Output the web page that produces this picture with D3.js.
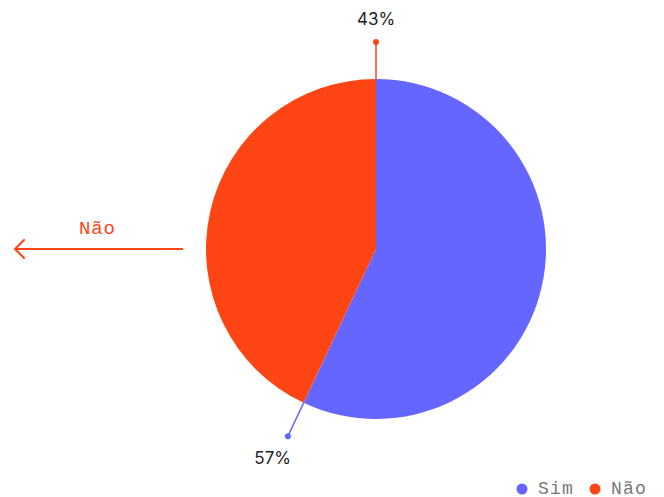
<!DOCTYPE html>
<html><head><meta charset="utf-8">
<script src="https://cdn.jsdelivr.net/npm/d3@7"></script>
<style>body{margin:0;background:#fff}svg{display:block}</style>
</head><body><svg id="c" width="664" height="497"></svg>
<script>
const categories = ["Sim", "Não"];
const values = [57, 43];
const labels = ["57%", "43%"];
const colors = ["#6466FF", "#FF4514"];

const svg = d3.select("#c");
const cx = 376, cy = 249, r = 170;
const g = svg.append("g").attr("transform", `translate(${cx},${cy})`);
const pie = d3.pie().sort(null).value(d => d)(values);
const arc = d3.arc().innerRadius(0).outerRadius(r);
g.selectAll("path.s").data(pie).join("path").attr("class","s")
  .attr("d", arc).attr("fill", (d,i) => colors[i]);

const pt = (a, rad) => [Math.sin(a)*rad, -Math.cos(a)*rad];
pie.forEach((d,i) => {
  const a = d.endAngle;
  const p1 = pt(a, r), p2 = pt(a, 207), p3 = pt(a, 231);
  g.append("line").attr("x1",p1[0]).attr("y1",p1[1]).attr("x2",p2[0]).attr("y2",p2[1])
    .attr("stroke", colors[i]).attr("stroke-width", 1.5);
  g.append("circle").attr("cx",p2[0]).attr("cy",p2[1]).attr("r",3).attr("fill",colors[i]);
  g.append("text").attr("x",p3[0] + (Math.sin(a) < -0.1 ? -5 : 0)).attr("y",p3[1] + (Math.cos(a) > 0.9 ? 1 : 0)).attr("dy","0.35em")
    .attr("text-anchor","middle").attr("font-family","Inter, 'Noto Sans', sans-serif")
    .attr("font-size",17).attr("fill","#222").text(labels[i]);
});

const mono = "'Liberation Mono', 'DejaVu Sans Mono', monospace";
const ac = colors[1];
svg.append("line").attr("x1",183).attr("y1",249).attr("x2",15).attr("y2",249)
  .attr("stroke",ac).attr("stroke-width",2);
svg.append("path").attr("d","M24,240 L15,249 L24,258").attr("fill","none")
  .attr("stroke",ac).attr("stroke-width",2).attr("stroke-linecap","round");
svg.append("text").attr("x",79).attr("y",234)
  .attr("font-family",mono).attr("font-size",19).attr("letter-spacing",0.8)
  .attr("fill",ac).text(categories[1]);

const lg = svg.append("g");
const lx = [522, 595];
categories.forEach((c,i) => {
  lg.append("circle").attr("cx",lx[i]).attr("cy",489).attr("r",5.5).attr("fill",colors[i]);
  lg.append("text").attr("x",lx[i]+16).attr("y",493.5)
    .attr("font-family",mono).attr("font-size",18).attr("letter-spacing",1.2)
    .attr("fill","#777").text(c);
});
</script></body></html>
